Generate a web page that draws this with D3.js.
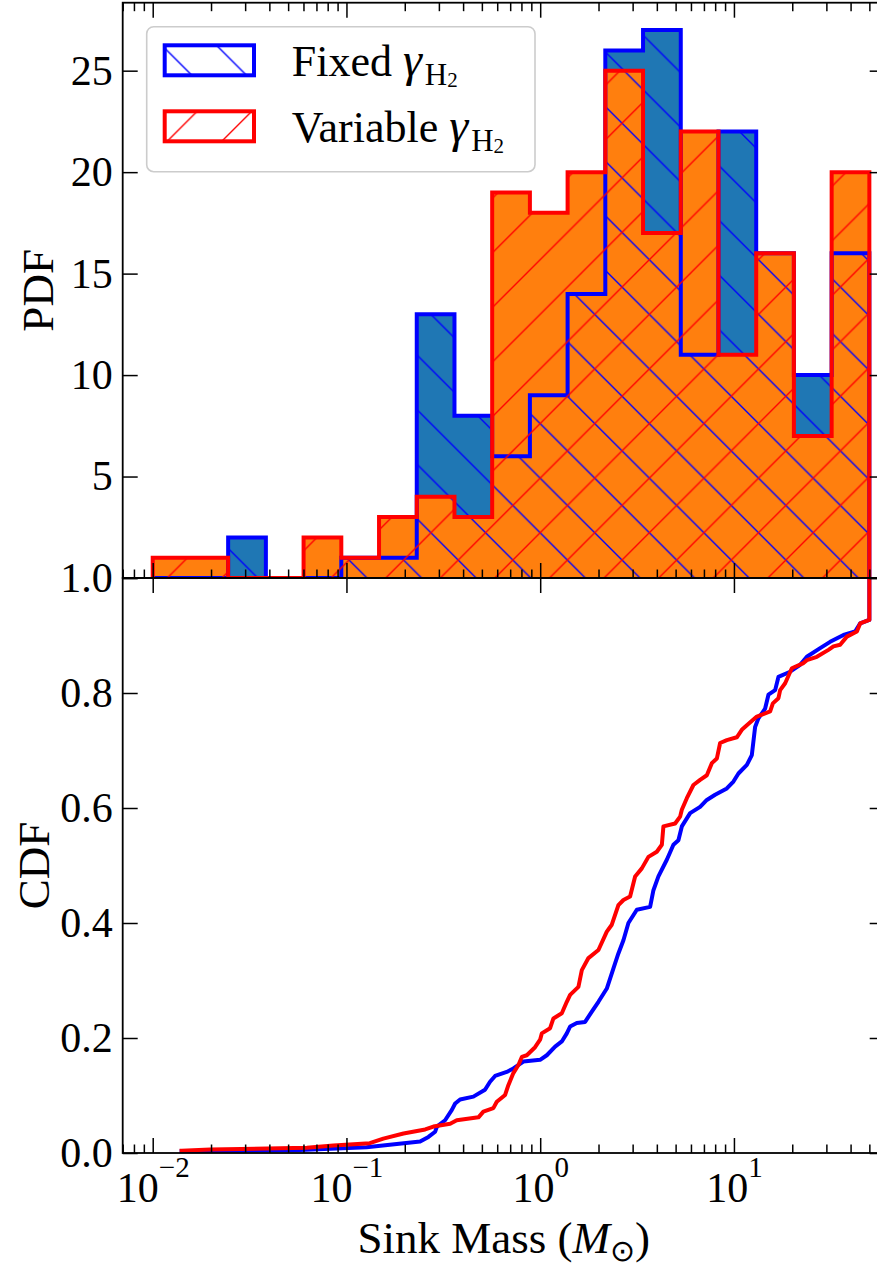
<!DOCTYPE html>
<html>
<head>
<meta charset="utf-8">
<script src="https://cdn.jsdelivr.net/npm/d3@7"></script>
<style>
  html, body { margin: 0; padding: 0; background: #fff; }
  svg { display: block; }
  text { font-family: "Liberation Serif", "Times New Roman", serif; fill: #000; }
</style>
</head>
<body>
<svg id="chart" width="877" height="1266"></svg>
<script>
// Logarithmic sink-mass bins (M_sun): 19 bins from 0.01 to 50
const binEdges = [0.01, 0.01566, 0.02451, 0.03838, 0.06008, 0.09406, 0.1473, 0.2306,
                  0.3610, 0.5651, 0.8848, 1.385, 2.168, 3.395, 5.316, 8.323, 13.03,
                  20.39, 31.94, 50.0];
// Sink counts per bin
const fixedCounts    = [0, 0, 2, 0, 0, 1, 1, 13, 8, 6, 9, 14, 26, 27, 11, 22, 16, 10, 16];
const variableCounts = [1, 1, 0, 0, 2, 1, 3, 4, 3, 19, 18, 20, 25, 17, 22, 11, 16, 7, 20];

// Cumulative distributions: [mass, fraction]
const fixedCdf = [
  [0.0141,0.003],[0.0576,0.005],[0.127,0.010],[0.240,0.020],[0.265,0.028],[0.287,0.037],
  [0.293,0.046],[0.323,0.057],[0.350,0.075],[0.364,0.086],[0.386,0.093],[0.452,0.098],
  [0.519,0.110],[0.551,0.124],[0.585,0.134],[0.672,0.141],[0.727,0.147],[0.819,0.159],
  [0.999,0.162],[1.082,0.170],[1.194,0.185],[1.293,0.194],[1.372,0.208],[1.427,0.220],
  [1.545,0.226],[1.705,0.228],[1.847,0.246],[1.998,0.263],[2.207,0.286],[2.388,0.321],
  [2.533,0.347],[2.689,0.370],[2.853,0.400],[3.153,0.423],[3.693,0.428],[3.841,0.457],
  [4.076,0.481],[4.504,0.510],[4.871,0.536],[5.169,0.544],[5.383,0.568],[5.941,0.591],
  [6.69,0.602],[7.246,0.614],[7.995,0.623],[9.19,0.634],[9.94,0.646],[10.55,0.660],
  [11.66,0.675],[12.37,0.692],[12.86,0.741],[13.38,0.756],[14.49,0.773],[15.07,0.797],
  [16.32,0.805],[16.97,0.828],[19.50,0.837],[21.97,0.849],[23.78,0.863],[27.86,0.878],
  [31.37,0.889],[36.76,0.901],[42.24,0.907],[44.83,0.921],[50.0,0.927],[50.0,1.0]
];
const variableCdf = [
  [0.0141,0.004],[0.0198,0.006],[0.0624,0.009],[0.0856,0.013],[0.132,0.017],[0.155,0.025],
  [0.197,0.034],[0.255,0.041],[0.281,0.046],[0.343,0.051],[0.371,0.057],[0.480,0.062],
  [0.509,0.072],[0.573,0.078],[0.597,0.089],[0.659,0.101],[0.685,0.118],[0.727,0.139],
  [0.772,0.153],[0.804,0.167],[0.853,0.170],[0.941,0.184],[0.999,0.197],[1.019,0.208],
  [1.125,0.217],[1.170,0.234],[1.293,0.243],[1.372,0.263],[1.427,0.275],[1.575,0.289],
  [1.640,0.318],[1.774,0.339],[1.998,0.353],[2.207,0.385],[2.342,0.397],[2.533,0.431],
  [2.689,0.440],[2.911,0.446],[3.090,0.481],[3.346,0.495],[3.619,0.515],[3.999,0.524],
  [4.245,0.536],[4.325,0.568],[4.971,0.573],[5.275,0.585],[5.383,0.597],[5.713,0.617],
  [6.178,0.640],[6.69,0.649],[7.246,0.657],[7.689,0.678],[8.160,0.686],[8.486,0.713],
  [9.190,0.718],[10.35,0.723],[10.98,0.736],[11.66,0.744],[13.13,0.759],[15.38,0.768],
  [15.88,0.782],[16.97,0.791],[17.32,0.805],[18.38,0.817],[19.90,0.843],[22.85,0.852],
  [23.78,0.857],[26.79,0.863],[30.75,0.875],[32.63,0.881],[35.34,0.884],[38.27,0.898],
  [43.11,0.907],[44.83,0.921],[50.0,0.927],[50.0,1.0]
];

// Axis ticks
const xMajorTicks = [0.01, 0.1, 1, 10];
const xMajorExponents = ["\u22122", "\u22121", "0", "1"];
const pdfTicks = [0, 5, 10, 15, 20, 25];
const cdfTicks = [0, 0.2, 0.4, 0.6, 0.8, 1.0];
const cdfTickLabels = ["0.0", "0.2", "0.4", "0.6", "0.8", "1.0"];

// ---- layout ----
const svg = d3.select("#chart");
const L = 122.7, R = 884.7, T = 2.7, M = 578, B = 1153;
const TICK_FONT = 42, LABEL_FONT = 45, LEGEND_FONT = 44;

const x = d3.scaleLog().domain([0.007, 60]).range([L, R]);
const yPdf = d3.scaleLinear().domain([0, 28.35]).range([M, T]);
const yCdf = d3.scaleLinear().domain([0, 1]).range([B, M]);

const C_FIXED_FILL = "#1f77b4", C_VAR_FILL = "#ff7f0e";
const C_FIXED = "#0000ff", C_VAR = "#ff0000";

const defs = svg.append("defs");
defs.append("clipPath").attr("id", "clipTop")
  .append("rect").attr("x", L).attr("y", T).attr("width", R - L).attr("height", M - T);
defs.append("clipPath").attr("id", "clipBottom")
  .append("rect").attr("x", L).attr("y", M).attr("width", R - L).attr("height", B - M);

// Diagonal hatch patterns anchored to the page
const HP = 54.6;
function hatch(id, color, forward, phase) {
  const p = defs.append("pattern").attr("id", id)
    .attr("patternUnits", "userSpaceOnUse")
    .attr("width", HP).attr("height", HP)
    .attr("patternTransform", `translate(${phase},0)`);
  let d = "";
  for (let k = -1; k <= 2; k++) {
    if (forward) d += `M${k * HP + HP},${-HP} L${k * HP - 2 * HP},${2 * HP} `;
    else d += `M${k * HP - HP},${-HP} L${k * HP + 2 * HP},${2 * HP} `;
  }
  p.append("path").attr("d", d).attr("stroke", color).attr("stroke-width", 1.4).attr("fill", "none");
}
hatch("hatchFixed", C_FIXED, false, 7.4);
hatch("hatchVar", C_VAR, true, 35.5);

// ---- histogram panel ----
function stepPoints(counts) {
  const pts = [[binEdges[0], 0]];
  counts.forEach((c, i) => { pts.push([binEdges[i], c], [binEdges[i + 1], c]); });
  pts.push([binEdges[binEdges.length - 1], 0]);
  return pts;
}
const histLine = d3.line().x(d => x(d[0])).y(d => yPdf(d[1]));
const gTop = svg.append("g").attr("clip-path", "url(#clipTop)");
const fixedPts = stepPoints(fixedCounts), varPts = stepPoints(variableCounts);

gTop.append("path").attr("d", histLine(fixedPts) + "Z").attr("fill", C_FIXED_FILL);
gTop.append("path").attr("d", histLine(varPts) + "Z").attr("fill", C_VAR_FILL);
gTop.append("path").attr("d", histLine(fixedPts) + "Z").attr("fill", "url(#hatchFixed)");
gTop.append("path").attr("d", histLine(fixedPts)).attr("fill", "none")
  .attr("stroke", C_FIXED).attr("stroke-width", 4).attr("stroke-linejoin", "miter");
gTop.append("path").attr("d", histLine(varPts) + "Z").attr("fill", "url(#hatchVar)");
gTop.append("path").attr("d", histLine(varPts)).attr("fill", "none")
  .attr("stroke", C_VAR).attr("stroke-width", 4).attr("stroke-linejoin", "miter");

// ---- CDF panel ----
const cdfLine = d3.line().x(d => x(d[0])).y(d => yCdf(d[1]));
const gBot = svg.append("g").attr("clip-path", "url(#clipBottom)");
gBot.append("path").attr("d", cdfLine(fixedCdf)).attr("fill", "none")
  .attr("stroke", C_FIXED).attr("stroke-width", 4).attr("stroke-linejoin", "round").attr("stroke-linecap", "square");
gBot.append("path").attr("d", cdfLine(variableCdf)).attr("fill", "none")
  .attr("stroke", C_VAR).attr("stroke-width", 4).attr("stroke-linejoin", "round").attr("stroke-linecap", "square");

// ---- axes ----
const isPow10 = d => Math.abs(Math.log10(d) - Math.round(Math.log10(d))) < 1e-9;
const xMinorTicks = x.ticks().filter(d => !isPow10(d));

function tickAxis(gen, tx, ty, values, size, fmt, pad) {
  const g = svg.append("g").attr("transform", `translate(${tx},${ty})`)
    .call(gen.tickValues(values).tickSizeInner(-size).tickSizeOuter(0)
      .tickPadding(pad || 10).tickFormat(fmt || (() => "")));
  g.select(".domain").remove();
  g.attr("font-family", null).attr("font-size", TICK_FONT);
  g.selectAll(".tick line").attr("stroke", "#000").attr("stroke-width", 1.5);
  g.selectAll(".tick text").attr("fill", "#000");
  return g;
}

// histogram panel ticks
tickAxis(d3.axisLeft(yPdf), L, 0, pdfTicks, 15, d => d === 0 ? "" : d, 10);
tickAxis(d3.axisRight(yPdf), R, 0, pdfTicks, 15);
tickAxis(d3.axisTop(x), 0, T, xMajorTicks, 15);
tickAxis(d3.axisTop(x), 0, T, xMinorTicks, 8.5);
tickAxis(d3.axisBottom(x), 0, M, xMajorTicks, 15);
tickAxis(d3.axisBottom(x), 0, M, xMinorTicks, 8.5);

// CDF panel ticks
tickAxis(d3.axisLeft(yCdf), L, 0, cdfTicks, 15, (d, i) => cdfTickLabels[i], 10);
tickAxis(d3.axisRight(yCdf), R, 0, cdfTicks, 15);
tickAxis(d3.axisTop(x), 0, M, xMajorTicks, 15);
const gx = tickAxis(d3.axisBottom(x), 0, B, xMajorTicks, 15);
tickAxis(d3.axisBottom(x), 0, B, xMinorTicks, 8.5);

gx.selectAll(".tick text").remove();
gx.selectAll(".tick").each(function (d, i) {
  const t = d3.select(this).append("text")
    .attr("y", 48.7).attr("text-anchor", "middle").attr("font-size", TICK_FONT);
  t.append("tspan").text("10");
  t.append("tspan").attr("font-size", 29).attr("dy", -25).text(xMajorExponents[i]);
});

// spines
[[T, M], [M, B]].forEach(([y0, y1]) => {
  svg.append("rect").attr("x", L).attr("y", y0).attr("width", R - L).attr("height", y1 - y0)
    .attr("fill", "none").attr("stroke", "#000").attr("stroke-width", 1.8);
});

// axis labels
svg.append("text").attr("transform", `translate(53,${(T + M) / 2}) rotate(-90)`)
  .attr("text-anchor", "middle").attr("font-size", LABEL_FONT).text("PDF");
svg.append("text").attr("transform", `translate(49,${(M + B) / 2}) rotate(-90)`)
  .attr("text-anchor", "middle").attr("font-size", LABEL_FONT).text("CDF");

const xl = svg.append("text").attr("x", (L + R) / 2).attr("y", 1253)
  .attr("text-anchor", "middle").attr("font-size", LABEL_FONT);
xl.append("tspan").text("Sink Mass (");
xl.append("tspan").attr("font-style", "italic").text("M");
xl.append("tspan").attr("font-size", 30).attr("dy", 8).text("\u2299");
xl.append("tspan").attr("dy", -8).text(")");

// ---- legend ----
const lg = svg.append("g");
lg.append("rect").attr("x", 146.7).attr("y", 26.7).attr("width", 388.3).attr("height", 145)
  .attr("rx", 7).attr("ry", 7).attr("fill", "#fff").attr("fill-opacity", 0.8)
  .attr("stroke", "#cccccc").attr("stroke-width", 1.6);

const legendItems = [
  { label: "Fixed ", color: C_FIXED, pattern: "hatchFixed", y: 45.3, base: 76 },
  { label: "Variable ", color: C_VAR, pattern: "hatchVar", y: 111.3, base: 142 }
];
legendItems.forEach(it => {
  lg.append("rect").attr("x", 164.7).attr("y", it.y).attr("width", 89.3).attr("height", 30)
    .attr("fill", "#fff");
  lg.append("rect").attr("x", 164.7).attr("y", it.y).attr("width", 89.3).attr("height", 30)
    .attr("fill", `url(#${it.pattern})`).attr("stroke", it.color).attr("stroke-width", 4);
  const t = lg.append("text").attr("x", 291.7).attr("y", it.base).attr("font-size", LEGEND_FONT);
  t.append("tspan").text(it.label);
  t.append("tspan").attr("font-style", "italic").attr("font-size", 48).text("\u03b3");
  t.append("tspan").attr("font-size", 31).attr("dx", 3).attr("dy", 9).text("H");
  t.append("tspan").attr("font-size", 21).attr("dy", 2).text("2");
});
</script>
</body>
</html>
